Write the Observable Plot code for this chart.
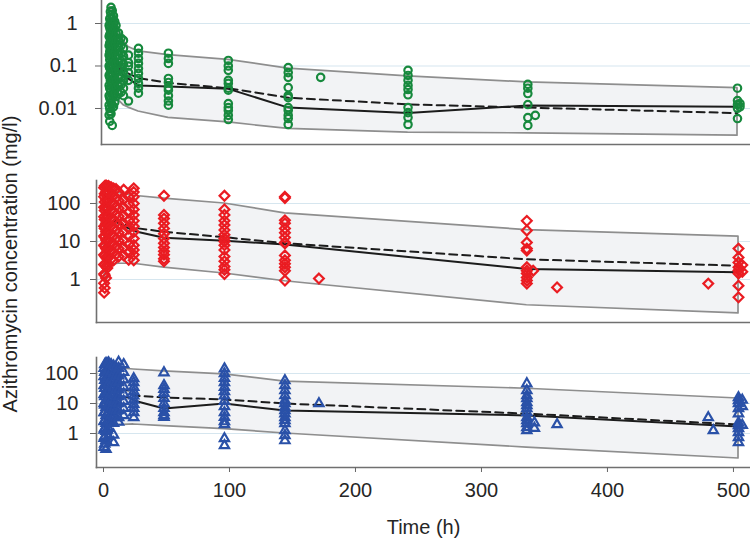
<!DOCTYPE html>
<html><head><meta charset="utf-8">
<script src="https://cdn.jsdelivr.net/npm/d3@7"></script>
<script src="https://cdn.jsdelivr.net/npm/@observablehq/plot@0.6"></script>
<style>
body{margin:0;background:#fff;}
#wrap{position:relative;width:750px;height:538px;overflow:hidden;font-family:"Liberation Sans",Arial,sans-serif;}
#wrap svg{position:absolute;left:0;top:0;}
#ylab{position:absolute;left:10px;top:264px;transform:translate(-50%,-50%) rotate(-90deg);font-size:20px;white-space:nowrap;color:#222;}
</style></head><body><div id="wrap"><div id="ylab">Azithromycin concentration (mg/l)</div></div>
<script>
// ---- tick labels ----
const timeTicks = [0, 100, 200, 300, 400, 500];
const plasmaTicks = [0.01, 0.1, 1];
const tissueTicks = [1, 10, 100];

// ---- panel 1 (green circles): observations [time, [concentrations]] ----
const greenObs = [
  [0.5, [0.9, 0.5, 0.3, 0.18, 0.1, 0.06, 0.035, 0.02, 0.012, 0.007]],
  [1, [1.3, 0.8, 0.55, 0.35, 0.22, 0.14, 0.09, 0.055, 0.03, 0.018, 0.01, 0.005]],
  [1.5, [1.9, 1.1, 0.7, 0.45, 0.28, 0.17, 0.11, 0.07, 0.045, 0.028, 0.016, 0.0085]],
  [2, [2.4, 1.6, 1.0, 0.62, 0.4, 0.25, 0.16, 0.1, 0.065, 0.04, 0.025, 0.014, 0.0075]],
  [3, [2.0, 1.3, 0.85, 0.55, 0.35, 0.22, 0.14, 0.09, 0.058, 0.036, 0.022, 0.012, 0.004]],
  [4, [1.5, 1.0, 0.7, 0.45, 0.3, 0.19, 0.12, 0.08, 0.05, 0.032, 0.02, 0.011]],
  [5, [1.1, 0.75, 0.5, 0.33, 0.21, 0.13, 0.085, 0.055, 0.035, 0.022, 0.014]],
  [6, [0.9, 0.6, 0.4, 0.26, 0.17, 0.11, 0.07, 0.045, 0.03, 0.019]],
  [8, [0.6, 0.4, 0.27, 0.18, 0.12, 0.08, 0.052, 0.034, 0.022]],
  [10, [0.45, 0.3, 0.2, 0.13, 0.085, 0.055, 0.036, 0.024]],
  [12, [0.4, 0.26, 0.17, 0.11, 0.07, 0.045, 0.03, 0.02]],
  [16, [0.18, 0.12, 0.1, 0.07, 0.046, 0.015]],
  [24, [0.26, 0.2, 0.15, 0.115, 0.087, 0.067, 0.051, 0.039, 0.03, 0.023]],
  [48, [0.2, 0.15, 0.115, 0.051, 0.041, 0.031, 0.027, 0.02, 0.015, 0.012]],
  [96, [0.135, 0.1, 0.079, 0.046, 0.039, 0.03, 0.027, 0.013, 0.0105, 0.009, 0.0069, 0.0055]],
  [144, [0.092, 0.07, 0.054, 0.031, 0.02, 0.018, 0.0105, 0.009, 0.0069, 0.0058, 0.0042]],
  [170, [0.054]],
  [240, [0.079, 0.06, 0.046, 0.035, 0.028, 0.021, 0.0105, 0.008, 0.0061, 0.0042]],
  [336, [0.037, 0.03, 0.0225, 0.0124, 0.0061, 0.004]],
  [342, [0.0069]],
  [504, [0.03, 0.0154, 0.0124, 0.0101, 0.0058]],
  [506, [0.013, 0.011]]
];
const greenBandTime = [1, 2, 4, 6, 8, 12, 16, 24, 48, 96, 144, 240, 336, 504];
const greenLower = [0.02, 0.03, 0.028, 0.022, 0.016, 0.012, 0.0105, 0.0085, 0.006, 0.0047, 0.0033, 0.0027, 0.0026, 0.0023];
const greenUpper = [2.5, 2.2, 1.5, 1.0, 0.7, 0.4, 0.28, 0.22, 0.18, 0.14, 0.087, 0.057, 0.041, 0.030];
const greenLineTime = [1, 2, 4, 8, 12, 24, 48, 96, 144, 240, 336, 504];
const greenObsMedian = [0.1, 0.2, 0.15, 0.09, 0.06, 0.035, 0.033, 0.029, 0.0105, 0.0078, 0.0118, 0.011];
const greenPredMedian = [0.12, 0.22, 0.18, 0.11, 0.075, 0.052, 0.04, 0.03, 0.018, 0.0125, 0.0105, 0.0078];

// ---- panel 2 (red diamonds) ----
const redObs = [
  [0.5, [260, 150, 80, 45, 25, 14, 8, 4.5, 2.5, 1.4, 0.8, 0.45]],
  [1, [290, 180, 110, 65, 38, 22, 13, 7.5, 4.2, 2.4, 1.3, 0.6]],
  [2, [300, 200, 130, 80, 50, 30, 18, 11, 6.5, 3.8, 2.2, 1.1]],
  [3, [280, 170, 110, 70, 42, 26, 16, 10, 6, 3.5, 2]],
  [4, [290, 190, 120, 75, 46, 28, 17, 10.5, 6.5, 4, 2.5]],
  [6, [270, 170, 105, 65, 40, 25, 15, 9, 5.5, 3.4]],
  [8, [250, 160, 100, 62, 38, 23, 14, 8.5, 5.2, 3.2]],
  [10, [240, 140, 85, 52, 32, 20, 12, 7.5, 4.6]],
  [12, [200, 120, 75, 46, 28, 17, 10.5, 6.5, 4]],
  [16, [230, 130, 80, 48, 30, 18, 11, 7, 4.3]],
  [20, [150, 95, 58, 35, 22, 13.5, 8.3, 5.1, 3.3]],
  [24, [250, 200, 150, 100, 70, 50, 35, 25, 18, 12, 8, 6, 4.5, 3.2]],
  [48, [160, 50, 40, 30, 22, 16, 12, 9, 7, 5.5, 4.5, 3.5, 3]],
  [96, [160, 70, 50, 35, 27, 20, 15, 12, 10, 8, 6, 4, 3, 2.2, 1.8, 1.4]],
  [144, [150, 140, 36, 30, 22, 17, 12.7, 9.4, 8.9, 4.3, 3.2, 2.6, 2.1, 1.7, 0.94]],
  [171, [1.06]],
  [336, [35, 19.5, 9.4, 6.5, 5.8, 2.1, 1.7, 1.44, 1.13, 0.94, 0.78]],
  [341, [1.7]],
  [360, [0.62]],
  [480, [0.78]],
  [504, [6.5, 3.8, 2.8, 2.1, 1.73, 1.44, 0.69, 0.34]],
  [507, [2.4, 1.6]]
];
const redBandTime = [1, 2, 4, 8, 12, 24, 48, 96, 144, 336, 504];
const redLower = [1.0, 1.6, 2.1, 2.5, 2.6, 2.6, 2.05, 1.44, 0.9, 0.21, 0.128];
const redUpper = [300, 280, 250, 220, 190, 160, 135, 100, 55, 20, 13.5];
const redLineTime = [1, 2, 4, 8, 12, 24, 48, 96, 144, 336, 504];
const redObsMedian = [8, 20, 30, 35, 30, 19, 12.5, 10.5, 8.3, 1.9, 1.55];
const redPredMedian = [10, 22, 32, 38, 33, 23, 18, 13, 9, 3.4, 2.3];

// ---- panel 3 (blue triangles) ----
const blueObs = [
  [0.5, [150, 80, 40, 20, 10, 5, 2.5, 1.3, 0.7, 0.35]],
  [1, [200, 110, 60, 32, 17, 9, 5, 2.7, 1.5, 0.8, 0.45]],
  [2, [220, 130, 75, 42, 24, 13, 7.5, 4, 2.2, 1.2, 0.6, 0.3]],
  [3, [210, 120, 70, 40, 23, 13, 7.5, 4.2, 2.4, 1.3]],
  [4, [230, 140, 80, 46, 26, 15, 8.5, 4.8, 2.7, 1.5, 0.8]],
  [6, [200, 115, 65, 38, 22, 12.5, 7, 4, 2.3]],
  [8, [180, 100, 58, 34, 20, 11.5, 6.5, 3.8, 2.2, 0.9, 0.5]],
  [10, [160, 90, 52, 30, 17, 10, 5.8, 3.4]],
  [12, [240, 150, 85, 50, 29, 17, 10, 5.8, 3.4, 2.4]],
  [16, [200, 110, 62, 36, 21, 12, 7, 4]],
  [24, [68, 50, 35, 25, 18, 13, 9.5, 7, 5, 3.4]],
  [48, [107, 40, 30, 22, 15, 10, 7, 5, 4, 3.5]],
  [96, [145, 100, 70, 50, 35, 25, 18, 12, 8, 5, 3.5, 2.5, 2, 0.68, 0.4]],
  [144, [58, 40, 27, 18.5, 12.6, 10, 7.4, 5.8, 4.6, 3.4, 2.7, 2.15, 1.26, 0.86, 0.58]],
  [171, [10]],
  [336, [46, 27, 18.5, 14.7, 10.8, 8.6, 6.8, 5, 3.4, 2.7, 2.15, 1.6, 1.26]],
  [342, [2.3, 1.5]],
  [360, [2.0]],
  [480, [3.4]],
  [484, [1.26]],
  [504, [15.8, 12.6, 10, 6.8, 4.6, 2.3, 1.85, 1.47, 1.08, 0.74, 0.5]],
  [507, [13, 8, 1.9]]
];
const blueBandTime = [1, 2, 4, 8, 12, 24, 48, 96, 144, 336, 504];
const blueLower = [0.8, 1.2, 1.5, 1.8, 1.9, 2.0, 1.75, 1.4, 1.0, 0.34, 0.147];
const blueUpper = [250, 230, 200, 170, 150, 136, 117, 93, 54, 31, 14.7];
const blueLineTime = [1, 2, 4, 8, 12, 20, 24, 48, 96, 144, 336, 504];
const blueObsMedian = [10, 20, 25, 22, 17, 16, 12.6, 6.8, 10, 5.8, 4.0, 1.7];
const bluePredMedian = [12, 25, 32, 30, 30, 27, 18.5, 15.8, 13.6, 10, 4.6, 2.0];

const W = 750, H = 538;
const FONT = '"Liberation Sans", Arial, Helvetica, sans-serif';

function panel(o) {
  const pts = o.obs.flatMap(([t, cs]) => cs.map(c => ({t, c})));
  const band = o.bandT.map((t, i) => ({t, lo: o.lower[i], hi: o.upper[i]}));
  const lines = o.lineT.map((t, i) => ({t, s: o.solid[i], d: o.dashed[i]}));
  const marks = [
    Plot.gridY(o.ticks, {stroke: "#d6e6ef", strokeOpacity: 1, strokeWidth: 1.2}),
    Plot.areaY(band, {x: "t", y1: "lo", y2: "hi", fill: "#f2f3f5", stroke: "#8e8e8e", strokeWidth: 1.7}),
    Plot.line(lines, {x: "t", y: "d", stroke: "#1c1c1c", strokeWidth: 2, strokeDasharray: "8,5"}),
    Plot.line(lines, {x: "t", y: "s", stroke: "#1c1c1c", strokeWidth: 2}),
    Plot.dot(pts, {x: "t", y: "c", symbol: o.symbol, r: o.r, stroke: o.color, strokeWidth: 2.2, fill: "none"}),
    Plot.axisY(o.ticks, {tickSize: 6, tickPadding: o.pad, stroke: "#666", fill: "#262626", tickFormat: d => String(d), label: null}),
    Plot.frame({anchor: "left", stroke: "#707070", strokeWidth: 1.6}),
    Plot.frame({anchor: "bottom", stroke: "#707070", strokeWidth: 1.6})
  ];
  if (o.xAxis) {
    marks.push(Plot.axisX(timeTicks, {tickSize: 5, tickPadding: 10, stroke: "#666", fill: "#262626",
      label: "Time (h)", labelAnchor: "center", labelOffset: 66, labelArrow: "none"}));
  }
  const svg = Plot.plot({
    width: W, height: H,
    marginTop: o.top, marginBottom: H - o.bottom, marginLeft: o.left, marginRight: 0,
    style: {background: "transparent", fontFamily: FONT, fontSize: "20px", color: "#262626", overflow: "visible"},
    x: {domain: [0, 504], range: o.xRange, axis: null, label: null},
    y: {type: "log", domain: o.yDomain, label: null, axis: null},
    marks
  });
  document.getElementById("wrap").appendChild(svg);
}

panel({obs: greenObs, bandT: greenBandTime, lower: greenLower, upper: greenUpper,
  lineT: greenLineTime, solid: greenObsMedian, dashed: greenPredMedian,
  color: "#17893d", symbol: "circle", r: 3.7, ticks: plasmaTicks,
  yDomain: [0.001422, 3.477], top: 0, bottom: 144, left: 101, xRange: [108, 737], pad: 18});

panel({obs: redObs, bandT: redBandTime, lower: redLower, upper: redUpper,
  lineT: redLineTime, solid: redObsMedian, dashed: redPredMedian,
  color: "#ea1c22", symbol: "diamond2", r: 4.4, ticks: tissueTicks,
  yDomain: [0.0739, 402.7], top: 180, bottom: 322, left: 96, xRange: [103, 738], pad: 10});

panel({obs: blueObs, bandT: blueBandTime, lower: blueLower, upper: blueUpper,
  lineT: blueLineTime, solid: blueObsMedian, dashed: bluePredMedian,
  color: "#2a51a8", symbol: "triangle2", r: 4.4, ticks: tissueTicks,
  yDomain: [0.0736, 341.5], top: 357, bottom: 467, left: 96, xRange: [103, 738], pad: 12, xAxis: true});
</script></body></html>
